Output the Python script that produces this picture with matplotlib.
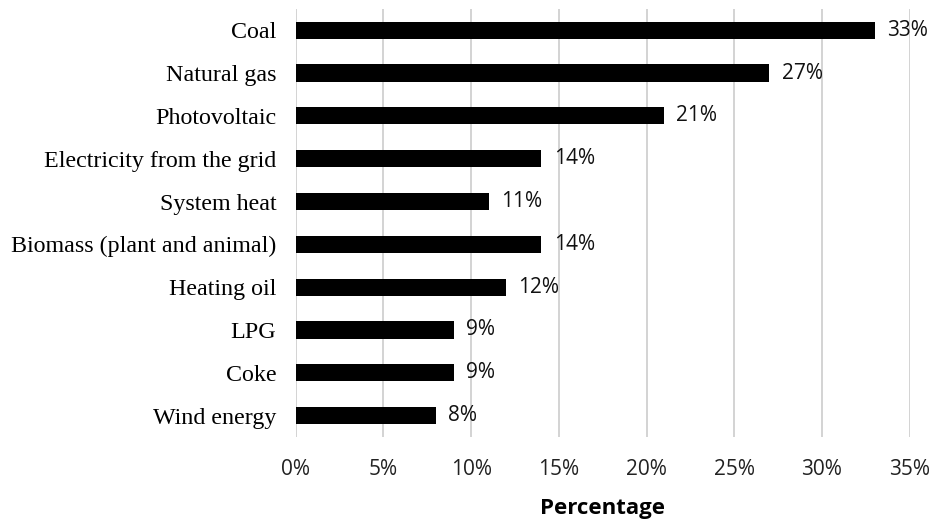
import numpy as np
from matplotlib import pyplot as plt
from matplotlib.ticker import FuncFormatter

categories = ['Coal', 'Natural gas', 'Photovoltaic', 'Electricity from the grid',
              'System heat', 'Biomass (plant and animal)', 'Heating oil', 'LPG',
              'Coke', 'Wind energy']
values = [33, 27, 21, 14, 11, 14, 12, 9, 9, 8]
x_ticks = [0, 5, 10, 15, 20, 25, 30, 35]

fig = plt.figure(figsize=(9.33, 5.19), dpi=100)
ax = fig.add_axes([0.317, 0.158, 0.658, 0.825])

y = np.arange(len(categories))
ax.barh(y, values, height=0.4, color='black', zorder=3)
ax.set_ylim(len(categories) - 0.5, -0.5)
ax.set_xlim(0, 35)

for yi, v in zip(y, values):
    ax.text(v + 0.7, yi, f'{v}%', va='center', ha='left',
            fontsize=15, family='Open Sans', color='#111111')

ax.set_yticks(y)
ax.set_yticklabels(categories, family='Liberation Serif', fontsize=17.3)
ax.set_xticks(x_ticks)
ax.xaxis.set_major_formatter(FuncFormatter(lambda v, p: f'{v:.0f}%'))
for lbl in ax.get_xticklabels():
    lbl.set_family('Open Sans')
    lbl.set_fontsize(15)
    lbl.set_color('#222222')

ax.tick_params(axis='both', length=0)
ax.tick_params(axis='x', pad=16)
ax.tick_params(axis='y', pad=14)
ax.grid(axis='x', color='#cccccc', linewidth=1.2, zorder=0)
for s in ax.spines.values():
    s.set_visible(False)

ax.set_xlabel('Percentage', family='Open Sans', fontsize=16, fontweight='bold',
              labelpad=13)

plt.savefig('out.png')
plt.close()
